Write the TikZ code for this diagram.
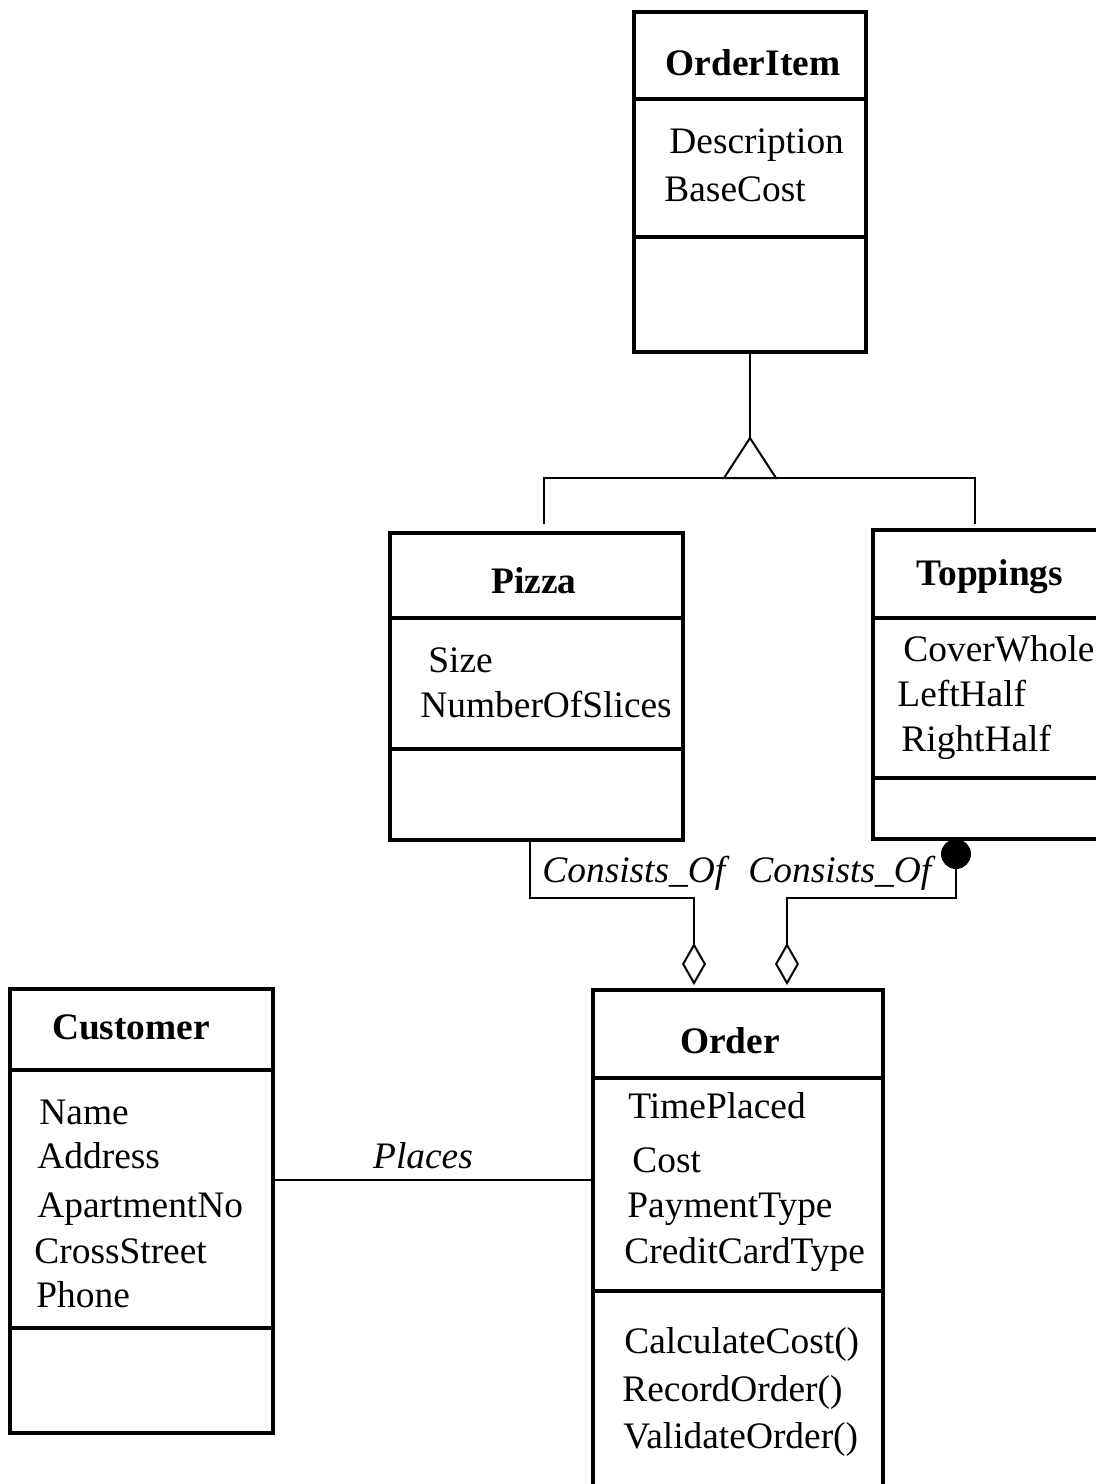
\documentclass[tikz,border=0pt]{standalone}
\usepackage{fontspec}
\setmainfont{Liberation Serif}
\usetikzlibrary{fit,arrows.meta}
\begin{document}
\begin{tikzpicture}[x=0.5pt,y=-0.5pt,
  box/.style={draw, line width=2pt, inner sep=0pt, outer sep=0pt},
  div/.style={line width=2pt},
  conn/.style={line width=1pt},
  txt/.style={anchor=base west, inner sep=0pt, font=\fontsize{18.7}{22}\selectfont},
  ttl/.style={anchor=base, inner sep=0pt, font=\fontsize{18.7}{22}\selectfont\bfseries},
  lbl/.style={anchor=base west, inner sep=0pt, font=\fontsize{18.7}{22}\selectfont\itshape},
  agg/.style={conn, -{Diamond[open, length=21pt, width=12pt, line width=1pt]}, shorten >=2.5pt},
  compagg/.style={conn, {Circle[length=15pt]}-{Diamond[open, length=21pt, width=12pt, line width=1pt]}, shorten >=2.5pt}]
\path[use as bounding box, fill=white] (0,0) rectangle (1096,1484);

% OrderItem
\node[box, fit={(634,12)(866,352)}] (oi) {};
\draw[div] (oi.west |- 0,99) -- (oi.east |- 0,99);
\draw[div] (oi.west |- 0,237) -- (oi.east |- 0,237);
\node[ttl] (oit) at (753,75) {OrderItem};
\node[txt] (oia1) at (669,153) {Description};
\node[txt] (oia2) at (664,201) {BaseCost};

% Pizza
\node[box, fit={(390,533)(683,840)}] (pz) {};
\draw[div] (pz.west |- 0,618) -- (pz.east |- 0,618);
\draw[div] (pz.west |- 0,749) -- (pz.east |- 0,749);
\node[ttl] (pzt) at (534,593) {Pizza};
\node[txt] (pza1) at (428,672) {Size};
\node[txt] (pza2) at (420,717) {NumberOfSlices};

% Toppings
\node[box, fit={(873,530)(1104,839)}] (tp) {};
\draw[div] (tp.west |- 0,618) -- (tp.east |- 0,618);
\draw[div] (tp.west |- 0,778) -- (tp.east |- 0,778);
\node[ttl] (tpt) at (990,585) {Toppings};
\node[txt] (tpa1) at (903,661) {CoverWhole};
\node[txt] (tpa2) at (897,706) {LeftHalf};
\node[txt] (tpa3) at (901,751) {RightHalf};

% Customer
\node[box, fit={(10,989)(273,1433)}] (cu) {};
\draw[div] (cu.west |- 0,1070) -- (cu.east |- 0,1070);
\draw[div] (cu.west |- 0,1328) -- (cu.east |- 0,1328);
\node[ttl] (cut) at (131,1039) {Customer};
\node[txt] (cua1) at (39,1124) {Name};
\node[txt] (cua2) at (37,1168) {Address};
\node[txt] (cua3) at (37,1217) {ApartmentNo};
\node[txt] (cua4) at (34,1263) {CrossStreet};
\node[txt] (cua5) at (36,1307) {Phone};

% Order
\node[box, fit={(593,990)(883,1510)}] (od) {};
\draw[div] (od.west |- 0,1078) -- (od.east |- 0,1078);
\draw[div] (od.west |- 0,1291) -- (od.east |- 0,1291);
\node[ttl] (odt) at (730,1053) {Order};
\node[txt] (oda1) at (628,1118) {TimePlaced};
\node[txt] (oda2) at (632,1172) {Cost};
\node[txt] (oda3) at (627,1217) {PaymentType};
\node[txt] (oda4) at (624,1263) {CreditCardType};
\node[txt] (odm1) at (624,1353) {CalculateCost()};
\node[txt] (odm2) at (622,1401) {RecordOrder()};
\node[txt] (odm3) at (623,1448) {ValidateOrder()};

% Generalization
\coordinate (gapex) at (750,438);
\coordinate (gl) at (544,524);
\coordinate (gr) at (975,524);
\draw[conn] (oi.south) -- (gapex);
\draw[conn, line join=miter] (gapex) -- (724,478) -- (776,478) -- cycle;
\draw[conn] (gl) -- (544,478) -- (975,478) -- (gr);

% Aggregations
\draw[agg] (pz.south -| 530,0) -- (530,898) -- (694,898) -- (od.north -| 694,0);
\draw[compagg] (tp.south -| 956,0) -- (956,898) -- (787,898) -- (od.north -| 787,0);
\node[lbl] (lab1) at (542,882) {Consists\_Of};
\node[lbl] (lab2) at (748,882) {Consists\_Of};

% Association
\draw[conn] (cu.east |- 0,1180) -- (od.west |- 0,1180);
\node[lbl, anchor=base] (lab3) at (423,1168) {Places};
\end{tikzpicture}
\end{document}
